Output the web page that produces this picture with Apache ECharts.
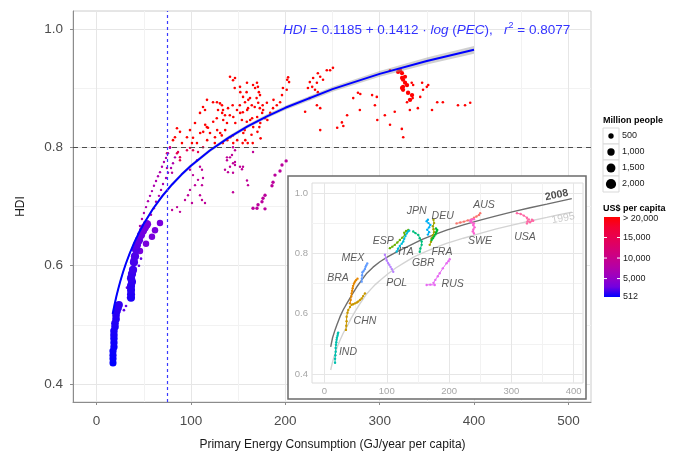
<!DOCTYPE html>
<html><head><meta charset="utf-8">
<script src="https://cdn.jsdelivr.net/npm/echarts@6/dist/echarts.min.js"></script>
<style>html,body{margin:0;padding:0;background:#fff}#c{width:675px;height:452px}</style>
</head><body><div id="c"></div>
<script>
// ---------- main chart data: [PEC (GJ/yr per capita), HDI] ----------
const fitPEC = [17,19,21,23,25,28,31,35,40,45,50,60,70,80,90,100,120,140,160,180,200,250,300,350,400];
const fitHDI = [0.5185,0.5343,0.5484,0.5612,0.5730,0.5890,0.6034,0.6205,0.6394,0.6560,0.6709,0.6966,0.7184,0.7372,0.7539,0.7688,0.7945,0.8163,0.8351,0.8518,0.8666,0.8981,0.9239,0.9456,0.9645];
const fitBand = [0.006,0.005,0.0045,0.004,0.004,0.0035,0.0035,0.003,0.003,0.003,0.003,0.003,0.003,0.003,0.003,0.003,0.003,0.003,0.0032,0.0034,0.0036,0.0042,0.005,0.0058,0.0066];

const indPEC = [17.4,17.4,17.4,17.4,18.4,18.4,18.4,18.4,18.4,19.5,19.5,20.6,20.6,21.6,22.7,23.7];
const indHDI = [0.436,0.443,0.449,0.456,0.463,0.470,0.477,0.483,0.490,0.497,0.503,0.510,0.517,0.524,0.529,0.534];
const indPop = [930,946,962,978,994,1010,1026,1042,1058,1074,1090,1106,1122,1138,1154,1170];
const indGDP = [550,600,650,700,760,820,880,950,1020,1100,1180,1260,1340,1420,1500,1600];

const chnPEC = [36.5,36.5,36.5,36.5,37.5,36.5,37.5,38.6,39.6,40.7,41.8,42.8,44.9,47.1,49.2,51.3,53.4];
const chnHDI = [0.546,0.552,0.559,0.566,0.573,0.579,0.586,0.593,0.606,0.616,0.627,0.635,0.643,0.652,0.659,0.665,0.670];
const chnPop = [1210,1218,1226,1234,1242,1250,1257,1264,1271,1278,1285,1292,1298,1304,1310,1316,1322];
const chnGDP = [1100,1200,1300,1400,1500,1600,1700,1850,2000,2150,2300,2450,2600,2800,3000,3200,3400];

const chainPts = [[39.6,0.611],[46,0.625],[52.4,0.637],[58.7,0.649],[61.9,0.660],[67.2,0.672]];
const violetPts = [[29,0.525],[31.2,0.532],[33.3,0.546],[32.2,0.563],[44.9,0.600],[47.1,0.612]];
const bandPts = [[46,0.667],[48.1,0.679],[50.2,0.689],[52.4,0.699],[54.5,0.709],[56.6,0.718],[58.7,0.726],[60.8,0.735],[63,0.743],[65.1,0.751],[67.2,0.758],[69.3,0.767],[71.4,0.775],[73.6,0.782],[75.7,0.790],[77.8,0.799],
 [54.5,0.674],[57.7,0.686],[60.8,0.697],[63,0.708],[66.1,0.718],[68.3,0.728],[70.4,0.738],[73.6,0.748],[75.7,0.757],[78.9,0.765],[81,0.773],[83.1,0.783]];
const midPts = [[80,0.694],[85.3,0.699],[88.4,0.691],[93.7,0.711],[96.9,0.719],[99,0.728],[104.3,0.736],[107.5,0.745],[112.8,0.748],[101.1,0.706],[109.6,0.719],[99,0.762],[102.2,0.753],[109.6,0.767],[106.4,0.778],[138.2,0.778],[136.1,0.762],[80,0.757],[74.6,0.765],[111.7,0.762],[111.7,0.736],[114.9,0.706],[111.7,0.711],[138.2,0.783],[143.5,0.787],[146.7,0.770],[139.3,0.758],[154.1,0.763],[159.4,0.744],[160.5,0.736],[144.6,0.724],[144.6,0.800],[141.4,0.783],[144.6,0.773],[152,0.767],[144.6,0.757],[146.7,0.795],[146.7,0.775],[141.4,0.767],[155.2,0.767],[165.8,0.792]];
const rusPts = [[200.9,0.777],[196.5,0.770],[194.4,0.760],[189.1,0.753],[187,0.741],[185.9,0.735],[178.5,0.719],[176.4,0.714],[175.3,0.708],[171.1,0.703],[170,0.697],[165.8,0.697],[178.5,0.696]];
const pinkPts = [[112.8,0.800],[107.5,0.792],[102.2,0.795],[99,0.799],[95.8,0.795],[88.4,0.783],[88.4,0.778],[86.3,0.792],[85.2,0.790],[77.8,0.800],[74.6,0.790]];
const usaPts = [[319.5,0.927],[321.6,0.930],[323.7,0.925],[323.7,0.917],[326.9,0.919],[324.8,0.914],[326.9,0.909],[324.8,0.902],[323.7,0.900],[324.8,0.897],[329,0.905],[330.1,0.892],[334.3,0.888],[332.2,0.880]];
const usaPop = [267,270,272,275,278,281,284,287,290,293,296,298,301,304];
const redPts = [[311,0.930],[334,0.909],[335.5,0.905],[335,0.883],[329,0.876],[343,0.885],[345,0.909],[350,0.902],[351.5,0.905],[346,0.897],[340.5,0.866],[332,0.863],[355.5,0.863],[361,0.876],[367,0.876],[383,0.871],[390.5,0.871],[396,0.875],[272,0.883],[277,0.892],[279,0.863],[292,0.888],[297,0.885],[295,0.871],[297.5,0.846],[305.5,0.854],[316,0.860],[311,0.838],[323.5,0.831],[265.5,0.854],[260,0.842],[261.5,0.836],[325,0.817],[279.5,0.890],
 [226,0.910],[228.5,0.902],[224,0.900],[229.5,0.917],[233.5,0.909],[237,0.919],[234.5,0.925],[244,0.930],[247.5,0.930],[250.5,0.934],[240,0.914],[231.5,0.897],[234.5,0.893],[226,0.883],[233.5,0.871],[237,0.866],[221,0.860],[237,0.829],[255,0.833],
 [202,0.914],[203,0.918],[204,0.910],[201.5,0.897],[197.5,0.900],[196.5,0.888],[194.5,0.876],[191,0.871],[187,0.866],[187.5,0.880],[184,0.858],[178.5,0.849],[180.5,0.875],[181,0.846],[176.5,0.863],[176,0.871],[175.5,0.858],[173,0.866],[173.5,0.841],[172.5,0.834],[173.8,0.815],[173.2,0.888],[172,0.893],[171,0.902],[171.3,0.875],[170,0.909],[169.6,0.883],[170.2,0.851],[170.5,0.826],[168,0.900],[167.6,0.868],[165.8,0.905],[166,0.834],[165.5,0.807],[164.5,0.871],[164.8,0.849],[164.2,0.821],[162.6,0.883],[162.8,0.846],[160.5,0.866],[160.2,0.807],[160.8,0.880],[159.4,0.909],[159,0.893],[159.6,0.863],[159.2,0.843],[157.3,0.876],[157,0.829],[157.6,0.812],[155.2,0.885],[155,0.859],[155.5,0.824],[154.8,0.807],[154,0.846],[152,0.902],[152.3,0.893],[151.8,0.871],[152.2,0.858],[148.8,0.863],[149,0.812],[146.7,0.917],[146.4,0.900],[147,0.841],[144.6,0.913],[144.2,0.871],[144.9,0.851],[144.5,0.820],[144.8,0.807],[141.4,0.919],[141.2,0.854],[141.7,0.817],[139.3,0.866],[138.2,0.841],[138.5,0.812],[136.1,0.854],[136.3,0.829],[134,0.863],[134.2,0.846],[133.8,0.807],[132.9,0.871],[133.1,0.858],[132.7,0.820],[130.8,0.874],[131,0.824],[128.7,0.863],[127.6,0.876],[127.4,0.849],[127.8,0.829],[125.5,0.817],[125.3,0.807],[123.4,0.876],[123.6,0.843],[120.2,0.824],[118.1,0.833],[117,0.880],[116.8,0.834],[117.2,0.812],[114.9,0.863],[115.1,0.838],[112.8,0.868],[113,0.826],[109.6,0.858],[109.8,0.824],[106.4,0.807],[104.3,0.841],[102.2,0.816],[101.1,0.807],[99,0.829],[95.8,0.817],[90.5,0.807],[88.4,0.826],[85.2,0.832],[83.1,0.817],[81,0.812]];
const thresholdHDI = 0.8;
const thresholdPEC = 75;

// size legend and colour legend values
const sizeLegendPop = [500,1000,1500,2000];
const sizeLegendLab = ['500','1,000','1,500','2,000'];
const gdpLegendVal = [20000,15000,10000,5000,512];
const gdpLegendLab = ['> 20,000','15,000','10,000','5,000','512'];

// ---------- inset data ----------
const ins2008PEC = [10,13,17,20,25,30,36,44,52,60,68,78,89,102,116,130,143,156,169,183,196,223,250,276,303,330,357,377,397];
const ins2008HDI = [0.49,0.52,0.546,0.563,0.59,0.612,0.634,0.662,0.689,0.712,0.734,0.754,0.772,0.789,0.805,0.819,0.832,0.845,0.856,0.867,0.877,0.894,0.91,0.924,0.938,0.951,0.963,0.972,0.981];
const ins1995PEC = [10,13,17,21,25,30,36,43,50,56,62,68,75,82,89,102,115,129,143,156,170,183,196,223,250,276,303,330,357,377,397];
const ins1995HDI = [0.413,0.44,0.468,0.492,0.512,0.535,0.557,0.585,0.61,0.63,0.648,0.666,0.682,0.697,0.71,0.732,0.752,0.77,0.787,0.80,0.812,0.823,0.833,0.85,0.866,0.881,0.894,0.907,0.919,0.928,0.936];
const insCountries = ['AUS','BRA','CHN','DEU','ESP','FRA','GBR','IND','ITA','JPN','MEX','POL','RUS','SWE','USA'];
const insAUS = [[212,0.899],[218,0.902],[224,0.905],[230,0.909],[236,0.912],[240,0.918],[244,0.922],[248,0.927],[250,0.933]];
const insBRA = [[41,0.634],[42,0.645],[43,0.657],[43.6,0.667],[44.5,0.676],[45.3,0.684],[46,0.692],[47.4,0.70],[49,0.706],[50.6,0.711],[53,0.716]];
const insCHN = [[34.5,0.546],[35,0.56],[35.5,0.575],[35.6,0.59],[37,0.603],[38.2,0.612],[41,0.622],[43.6,0.629],[46,0.631],[49,0.634],[52,0.637],[54.3,0.64],[57,0.645],[59.7,0.65],[62,0.658],[65,0.667]];
const insDEU = [[169,0.828],[171,0.838],[172,0.85],[174,0.86],[176,0.87],[175,0.88],[174,0.89],[176,0.9],[175,0.911]];
const insESP = [[105,0.817],[109,0.822],[113,0.828],[117,0.836],[121,0.844],[125,0.852],[129,0.861],[128,0.868],[131,0.874],[134.5,0.877]];
const insFRA = [[172,0.844],[174,0.85],[176,0.856],[178,0.862],[179,0.868],[180,0.872],[181,0.877],[179,0.882]];
const insGBR = [[153,0.805],[154,0.816],[156,0.828],[156,0.839],[153,0.85],[150.6,0.861],[146,0.867],[142.5,0.872]];
const insIND = [[17,0.437],[17,0.45],[17.5,0.462],[18,0.474],[18,0.486],[18.5,0.497],[19,0.505],[19.5,0.513],[20,0.52],[21,0.527],[21.5,0.533],[22,0.537]];
const insITA = [[116,0.806],[118,0.815],[121,0.824],[124,0.832],[126.5,0.839],[128,0.848],[130,0.857],[132,0.866],[134,0.872],[136,0.875]];
const insJPN = [[166,0.862],[168,0.87],[165,0.878],[168,0.886],[170,0.894],[167,0.9],[164,0.906],[166,0.911]];
const insMEX = [[59.7,0.706],[60,0.716],[60.5,0.727],[61,0.737],[63,0.742],[65,0.748],[66,0.755],[67,0.76],[68.7,0.766]];
const insPOL = [[110.4,0.739],[108,0.748],[106,0.755],[104,0.762],[102,0.768],[100,0.776],[98.5,0.784],[97,0.795]];
const insRUS = [[164,0.695],[170,0.696],[177,0.695],[175,0.702],[178,0.712],[182,0.724],[185,0.734],[190,0.75],[196,0.767],[199,0.774],[201,0.78]];
const insSWE = [[240,0.866],[238,0.872],[239,0.879],[241,0.886],[239,0.893],[240,0.899],[236,0.903],[234,0.907],[236,0.911],[240,0.913]];
const insUSA = [[309,0.933],[315,0.93],[320,0.925],[325,0.918],[328,0.912],[326,0.905],[325,0.899],[330,0.903],[335,0.908],[333,0.911]];
const insLabelName = ['IND','CHN','BRA','MEX','POL','ESP','ITA','GBR','JPN','DEU','FRA','AUS','SWE','USA','RUS'];
const insLabelPEC = [37.7,65,21.7,45.7,115.9,94.4,130.8,158.6,148,189.7,188.6,256,249.6,321.8,205.8];
const insLabelHDI = [0.471,0.576,0.718,0.785,0.701,0.841,0.803,0.769,0.941,0.924,0.803,0.960,0.839,0.855,0.698];
const curveLabelName = ['2008','1995'];
const curveLabelPEC = [372.7,383.3];
const curveLabelHDI = [0.993,0.916];

// ---------- styling ----------
const FONT = '"Liberation Sans", Arial, sans-serif';
const T = 'rgba(0,0,0,0)', MAJ = '#e6e6e6', MIN = '#f2f2f2';
const xCycle = [T, MAJ, T, MIN];
const yCycle = Array(20).fill(T); yCycle[3] = MAJ; yCycle[13] = MIN;
const ixCycle = Array(10).fill(T); ixCycle[2] = MAJ; ixCycle[7] = MIN;
const gradStops = ['#0000FF','#7300E0','#9A00C3','#B500A5','#C90088','#DA006C','#E8004F','#F40031','#FF0000'];
const hue = {AUS:'#F8766D',BRA:'#E58700',CHN:'#C99800',DEU:'#A3A500',ESP:'#6BB100',FRA:'#00BA38',GBR:'#00BF7D',IND:'#00C0AF',ITA:'#00BCD8',JPN:'#00B0F6',MEX:'#619CFF',POL:'#B983FF',RUS:'#E76BF3',SWE:'#FD61D1',USA:'#FF67A4'};
const insData = {AUS:insAUS,BRA:insBRA,CHN:insCHN,DEU:insDEU,ESP:insESP,FRA:insFRA,GBR:insGBR,IND:insIND,ITA:insITA,JPN:insJPN,MEX:insMEX,POL:insPOL,RUS:insRUS,SWE:insSWE,USA:insUSA};
const sizeOf = p => Math.sqrt(4 + 0.05 * p);

function fromArrays(pec, hdi, pop, gdp) { return pec.map((x, i) => [x, hdi[i], pop[i], gdp[i]]); }
function fromPairs(pts, pop, gdp) { return pts.map((p, i) => [p[0], p[1], Array.isArray(pop) ? pop[i] : pop, Array.isArray(gdp) ? gdp[i] : gdp]); }

const mainGroups = [
  fromPairs(redPts, 55, 24000),
  fromPairs(pinkPts, 40, 15000),
  fromPairs(usaPts, usaPop, 38000),
  fromPairs(bandPts, 35, 7200),
  fromPairs(midPts, 35, 9000),
  fromPairs(rusPts, 147, 8600),
  fromPairs(violetPts, 60, 2600),
  fromPairs(chainPts, 750, 3300),
  fromArrays(chnPEC, chnHDI, chnPop, chnGDP),
  fromArrays(indPEC, indHDI, indPop, indGDP)
];

const series = [];
// confidence band around fit
series.push({
  type: 'custom', xAxisIndex: 0, yAxisIndex: 0, silent: true, z: 3,
  data: [[100, 0.8]],
  renderItem: (params, api) => {
    const pts = [];
    for (let i = 0; i < fitPEC.length; i++) pts.push(api.coord([fitPEC[i], fitHDI[i] + fitBand[i]]));
    for (let i = fitPEC.length - 1; i >= 0; i--) pts.push(api.coord([fitPEC[i], fitHDI[i] - fitBand[i]]));
    return { type: 'polygon', shape: { points: pts }, style: { fill: 'rgba(150,150,150,0.45)' } };
  }
});
const scatterIdx = [];
mainGroups.forEach(g => {
  scatterIdx.push(series.length);
  series.push({ type: 'scatter', xAxisIndex: 0, yAxisIndex: 0, data: g, silent: true, z: 2,
    symbolSize: v => sizeOf(v[2]), itemStyle: { opacity: 1 } });
});
series.push({
  type: 'line', xAxisIndex: 0, yAxisIndex: 0, silent: true, z: 4,
  data: fitPEC.map((x, i) => [x, fitHDI[i]]), showSymbol: false, smooth: false,
  lineStyle: { color: '#0000FF', width: 2 }
});
// threshold lines
series.push({ type: 'line', xAxisIndex: 0, yAxisIndex: 0, data: [], silent: true, z: 4, color: '#4d4d4d',
  markLine: { silent: true, symbol: 'none', label: { show: false }, animation: false,
    lineStyle: { color: '#4d4d4d', type: [5, 4], width: 1.2 },
    data: [{ yAxis: thresholdHDI, lineStyle: { color: '#4d4d4d', type: [5, 4], width: 1.2 } }] } });
series.push({ type: 'line', xAxisIndex: 0, yAxisIndex: 0, data: [], silent: true, z: 4, color: '#3a3aff',
  markLine: { silent: true, symbol: 'none', label: { show: false }, animation: false,
    lineStyle: { color: '#3a3aff', type: [3, 3], width: 1.2 },
    data: [{ xAxis: thresholdPEC, lineStyle: { color: '#3a3aff', type: [3, 3], width: 1.2 } }] } });
// inset
series.push({ type: 'line', xAxisIndex: 2, yAxisIndex: 2, z: 13, silent: true, showSymbol: false, smooth: false,
  data: ins1995PEC.map((x, i) => [x, ins1995HDI[i]]), lineStyle: { color: '#d3d3d3', width: 1.4 } });
series.push({ type: 'line', xAxisIndex: 2, yAxisIndex: 2, z: 13, silent: true, showSymbol: false, smooth: false,
  data: ins2008PEC.map((x, i) => [x, ins2008HDI[i]]), lineStyle: { color: '#6e6e6e', width: 1.4 } });
insCountries.forEach(c => {
  series.push({ type: 'line', xAxisIndex: 2, yAxisIndex: 2, z: 14, silent: true,
    data: insData[c], symbol: 'circle', symbolSize: 2.4, showSymbol: true,
    lineStyle: { color: hue[c], width: 1 }, itemStyle: { color: hue[c] } });
});
series.push({ type: 'scatter', xAxisIndex: 2, yAxisIndex: 2, z: 15, silent: true, symbolSize: 0,
  data: insLabelName.map((n, i) => [insLabelPEC[i], insLabelHDI[i], n]),
  label: { show: true, position: 'inside', formatter: p => p.data[2], color: '#333', fontStyle: 'italic', fontSize: 10.5, fontFamily: FONT } });
series.push({ type: 'scatter', xAxisIndex: 2, yAxisIndex: 2, z: 15, silent: true, symbolSize: 0,
  data: curveLabelName.map((n, i) => ({ value: [curveLabelPEC[i], curveLabelHDI[i], n],
    label: { color: i === 0 ? '#222' : '#bdbdbd', fontWeight: i === 0 ? 'bold' : 'normal' } })),
  label: { show: true, position: 'inside', rotate: 11, formatter: p => p.data.value[2], fontSize: 10.5, fontFamily: FONT } });

// legend graphics
const graphics = [];
graphics.push({ type: 'rect', z: 10, silent: true, shape: { x: 288, y: 176, width: 298, height: 223 },
  style: { fill: '#fff', stroke: '#6b6b6b', lineWidth: 1.5 } });
graphics.push({ type: 'text', x: 283, y: 30, z: 5, silent: true,
  style: { text: '{i|HDI} = 0.1185 + 0.1412 · {i|log} ({i|PEC}),   {i|r}{s|2} = 0.8077', fill: '#3333ff', fontSize: 13.5, fontFamily: FONT, verticalAlign: 'middle',
    rich: { i: { fontStyle: 'italic', fontSize: 13.5, fill: '#3333ff', fontFamily: FONT }, s: { fontSize: 9, fill: '#3333ff', fontFamily: FONT, padding: [0, 0, 8, 0] } } } });
graphics.push({ type: 'text', x: 603, y: 121, silent: true, style: { text: 'Million people', fontWeight: 'bold', fontSize: 9, fontFamily: FONT, fill: '#000', verticalAlign: 'middle' } });
sizeLegendPop.forEach((p, i) => {
  const cy = 136 + i * 16;
  graphics.push({ type: 'rect', silent: true, shape: { x: 603, y: cy - 8, width: 16, height: 16 }, style: { fill: '#fff', stroke: '#d9d9d9', lineWidth: 1 } });
  graphics.push({ type: 'circle', silent: true, shape: { cx: 611, cy: cy, r: sizeOf(p) / 2 }, style: { fill: '#000' } });
  graphics.push({ type: 'text', x: 622, y: cy, silent: true, style: { text: sizeLegendLab[i], fontSize: 9, fontFamily: FONT, fill: '#1a1a1a', verticalAlign: 'middle' } });
});
graphics.push({ type: 'text', x: 603, y: 209, silent: true, style: { text: 'US$ per capita', fontWeight: 'bold', fontSize: 9, fontFamily: FONT, fill: '#000', verticalAlign: 'middle' } });
const barTop = 217, barH = 80;
graphics.push({ type: 'rect', silent: true, shape: { x: 604, y: barTop, width: 16, height: barH },
  style: { fill: new echarts.graphic.LinearGradient(0, 1, 0, 0, gradStops.map((c, i) => ({ offset: i / (gradStops.length - 1), color: c }))) } });
gdpLegendVal.forEach((v, i) => {
  const y = barTop + barH - (Math.min(v, 20000) - 512) / (20000 - 512) * barH;
  if (i > 0 && i < gdpLegendVal.length - 1) {
    graphics.push({ type: 'line', silent: true, shape: { x1: 604, y1: y, x2: 607, y2: y }, style: { stroke: '#fff', lineWidth: 1 } });
    graphics.push({ type: 'line', silent: true, shape: { x1: 617, y1: y, x2: 620, y2: y }, style: { stroke: '#fff', lineWidth: 1 } });
  }
  graphics.push({ type: 'text', x: 623, y: y + (i === 0 ? 2 : 0), silent: true, style: { text: gdpLegendLab[i], fontSize: 9, fontFamily: FONT, fill: '#1a1a1a', verticalAlign: 'middle' } });
});

const option = {
  animation: false,
  backgroundColor: '#fff',
  grid: [
    { left: 73, top: 11, width: 518, height: 391, show: true, borderColor: '#cccccc', borderWidth: 1, backgroundColor: '#fff', outerBoundsMode: 'none', containLabel: false },
    { left: 96.6, top: 28.8, width: 471.8, height: 355.4, outerBoundsMode: 'none', containLabel: false },
    { left: 312, top: 183, width: 271, height: 200, show: true, borderColor: '#dcdcdc', borderWidth: 1, backgroundColor: '#fff', z: 11, outerBoundsMode: 'none', containLabel: false }
  ],
  xAxis: [
    { gridIndex: 0, type: 'value', min: -25, max: 524, interval: 25,
      axisLine: { show: true, onZero: false, lineStyle: { color: '#8c8c8c' } }, axisTick: { show: false }, axisLabel: { show: false },
      splitLine: { show: true, lineStyle: { color: xCycle, width: 1 } } },
    { gridIndex: 1, type: 'value', min: 0, max: 500, interval: 100, offset: 17.8,
      axisLine: { show: false, onZero: false }, axisTick: { show: true, length: 3, lineStyle: { color: '#8c8c8c' } },
      axisLabel: { color: '#4d4d4d', fontSize: 13.5, fontFamily: FONT, margin: 12 }, splitLine: { show: false },
      name: 'Primary Energy Consumption (GJ/year per capita)', nameLocation: 'middle', nameGap: 37,
      nameTextStyle: { color: '#1a1a1a', fontSize: 12, fontFamily: FONT } },
    { gridIndex: 2, type: 'value', min: -20, max: 415, interval: 10, z: 12,
      axisLine: { show: false, onZero: false }, axisTick: { show: false },
      axisLabel: { formatter: v => (v >= 0 && v <= 400 && Math.abs(v % 100) < 1e-6) ? String(Math.round(v)) : '', color: '#a6a6a6', fontSize: 9.5, fontFamily: FONT, margin: 3 },
      splitLine: { show: true, lineStyle: { color: ixCycle, width: 1 } } }
  ],
  yAxis: [
    { gridIndex: 0, type: 'value', min: 0.37, max: 1.03, interval: 0.01,
      axisLine: { show: true, onZero: false, lineStyle: { color: '#8c8c8c' } }, axisTick: { show: false }, axisLabel: { show: false },
      splitLine: { show: true, lineStyle: { color: yCycle, width: 1 } } },
    { gridIndex: 1, type: 'value', min: 0.4, max: 1.0, interval: 0.2, offset: 23.6,
      axisLine: { show: false, onZero: false }, axisTick: { show: true, length: 3, lineStyle: { color: '#8c8c8c' } },
      axisLabel: { formatter: v => v.toFixed(1), color: '#4d4d4d', fontSize: 13.5, fontFamily: FONT, margin: 10 }, splitLine: { show: false },
      name: 'HDI', nameLocation: 'middle', nameGap: 46, nameRotate: 90, nameTextStyle: { color: '#1a1a1a', fontSize: 12, fontFamily: FONT } },
    { gridIndex: 2, type: 'value', min: 0.37, max: 1.033, interval: 0.01, z: 12,
      axisLine: { show: false, onZero: false }, axisTick: { show: false },
      axisLabel: { formatter: v => { const k = Math.round(v * 10); return (Math.abs(v * 10 - k) < 1e-6 && k % 2 === 0 && k >= 4 && k <= 10) ? (k / 10).toFixed(1) : ''; },
        color: '#a6a6a6', fontSize: 9.5, fontFamily: FONT, margin: 4 },
      splitLine: { show: true, lineStyle: { color: yCycle, width: 1 } } }
  ],
  visualMap: { show: false, type: 'continuous', min: 512, max: 20000, dimension: 3, seriesIndex: scatterIdx,
    inRange: { color: gradStops } },
  series: series,
  graphic: graphics
};
const chart = echarts.init(document.getElementById('c'));
chart.setOption(option);
</script></body></html>
